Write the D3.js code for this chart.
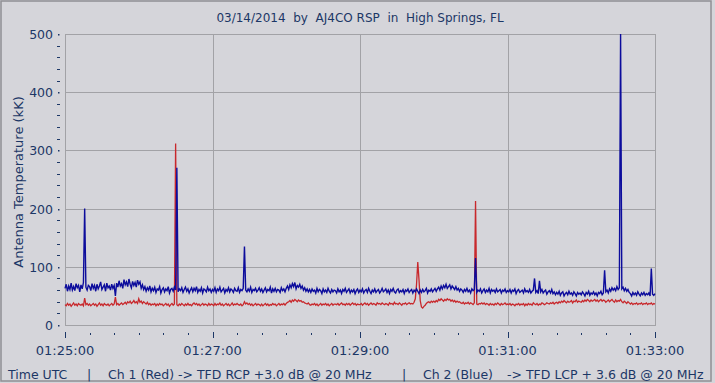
<!DOCTYPE html>
<html>
<head>
<meta charset="utf-8">
<script src="https://cdn.jsdelivr.net/npm/d3@7"></script>
<style>
  html, body { margin: 0; padding: 0; background: #d5d5da; }
  svg { display: block; }
  text { font-family: "DejaVu Sans", Verdana, sans-serif; fill: #1c3766; }
</style>
</head>
<body>
<svg id="chart" width="715" height="383"></svg>
<script>
// ---- Data ----
const titleText = "03/14/2014  by  AJ4CO RSP  in  High Springs, FL";
const yAxisTitle = "Antenna Temperature (kK)";
const legendParts = ["Time UTC", "|", "Ch 1 (Red) -> TFD RCP +3.0 dB @ 20 MHz", "|", "Ch 2 (Blue)", "-> TFD LCP + 3.6 dB @ 20 MHz"];

const startSeconds = 0;     // 01:25:00
const stepSeconds = 1;      // sample spacing (s)
const xTickSeconds = [0, 120, 240, 360, 480];
const xTickLabels = ["01:25:00", "01:27:00", "01:29:00", "01:31:00", "01:33:00"];
const yTicks = [0, 100, 200, 300, 400, 500];

// Ch 2 (Blue) antenna temperature, one value per second
const blueValues = [
  63,70,58,67,61,72,60,66,59,71, 64,68,57,69,62,73,200,65,60,68,
  66,59,71,63,68,58,70,62,67,74, 61,65,69,58,72,64,67,60,70,63,
  68,50,72,65,76,67,71,63,78,69, 74,66,79,70,64,75,68,73,65,77,
  70,74,63,69,61,66,58,64,60,67, 57,63,59,65,56,62,60,66,55,61,
  64,57,62,59,66,55,61,63,58,65, 60,270,57,62,59,64,56,61,65,58,
  62,55,60,64,57,63,59,66,56,61, 58,64,55,62,60,57,65,59,62,56,
  61,58,64,56,62,59,65,57,60,63, 55,61,58,64,57,62,60,56,63,59,
  58,64,56,61,59,63,135,60,57,62, 58,65,56,61,59,63,57,60,64,58,
  62,56,60,64,57,61,59,65,55,62, 58,63,57,61,60,56,64,59,62,57,
  63,67,61,69,64,71,66,73,62,68, 65,70,63,67,60,64,58,62,57,61,
  56,62,58,60,55,63,57,61,59,54, 62,57,60,56,63,58,55,61,57,60,
  59,55,62,57,60,54,61,58,63,56, 59,62,55,60,57,61,54,59,62,56,
  60,57,62,55,59,61,56,63,58,54, 60,57,62,56,59,61,55,58,63,57,
  59,62,56,60,54,61,58,63,57,55, 60,62,56,59,57,61,54,60,58,62,
  56,59,61,55,60,57,62,58,54,60, 56,61,57,59,63,55,60,58,62,57,
  60,63,58,62,65,60,67,62,68,64, 70,63,66,69,62,67,64,61,66,60,
  63,58,62,60,56,61,58,63,57,60, 55,62,59,61,115,56,60,58,62,55,
  59,62,56,60,57,63,55,61,58,60, 56,62,57,59,61,55,60,58,62,56,
  59,57,61,55,60,58,62,54,59,61, 56,58,60,55,62,57,59,56,61,55,
  58,60,80,56,59,54,76,57,61,55, 58,60,53,57,59,55,61,54,57,52,
  56,53,58,51,55,57,50,54,56,52, 58,53,55,51,57,54,50,56,53,55,
  52,57,54,50,56,53,58,51,55,53, 57,52,55,50,56,54,58,52,55,94,
  57,60,55,62,58,64,60,63,59,66, 61,64,500,62,65,59,63,58,61,56,
  54,50,56,52,55,51,57,53,50,55, 52,56,51,54,52,55,50,97,53,51,
  54
];

// Ch 1 (Red) antenna temperature, one value per second
const redValues = [
  35,33,37,34,36,32,35,38,34,36, 33,37,35,34,36,33,46,35,37,34,
  36,33,35,37,34,36,32,35,38,34, 36,33,37,35,34,36,33,35,37,34,
  36,48,35,37,34,36,38,35,37,39, 36,40,38,41,37,39,42,38,40,37,
  45,39,41,37,40,38,36,39,35,37, 34,36,35,37,33,36,34,37,35,36,
  33,35,37,34,36,32,35,37,34,36, 312,35,33,36,34,37,35,33,36,34,
  37,34,35,33,36,38,35,37,34,36, 33,35,37,34,36,35,33,37,34,36,
  35,33,37,34,36,35,38,34,36,33, 35,37,34,36,33,35,38,34,36,35,
  37,35,34,36,33,35,40,36,38,35, 37,34,36,33,35,37,34,36,35,33,
  36,33,35,37,34,36,33,35,34,37, 35,36,33,35,37,34,36,35,37,34,
  37,39,40,42,39,43,41,44,42,40, 43,41,42,39,40,38,37,36,38,35,
  34,36,35,37,34,36,33,35,37,34, 36,35,37,34,36,33,35,37,34,36,
  36,35,37,34,36,38,35,36,34,37, 35,37,34,36,38,35,37,34,36,35,
  35,37,34,36,38,35,37,34,36,38, 35,37,36,34,38,36,37,35,38,36,
  35,37,36,34,38,36,37,35,39,36, 37,35,38,36,34,37,36,38,35,37,
  38,36,37,36,39,45,70,108,78,42, 31,29,32,34,37,39,40,38,41,39,
  41,39,42,40,44,42,45,43,41,44, 42,45,43,44,41,43,40,42,39,41,
  39,40,38,37,39,36,38,37,39,36, 38,37,35,38,213,36,35,37,36,38,
  36,38,35,37,36,34,37,35,36,34, 37,35,38,36,34,37,35,36,38,35,
  36,35,37,34,36,35,33,36,35,37, 34,36,35,37,33,36,34,37,35,36,
  34,38,36,35,37,34,36,35,38,37, 35,36,38,37,36,38,37,39,36,38,
  39,37,40,38,41,39,42,40,38,41, 39,40,42,38,41,40,43,39,41,40,
  39,42,40,43,41,44,42,40,43,41, 42,44,41,43,40,42,44,41,43,42,
  39,41,43,40,42,44,41,39,43,40, 42,41,44,40,38,41,39,37,40,38,
  36,38,35,37,36,38,35,37,36,38, 35,37,36,38,35,37,36,38,35,37,
  36
];

// ---- Layout ----
const W = 715, H = 383;
const plot = { left: 65, right: 655, top: 34, bottom: 325 };
const bg = "#d5d5da", gridColor = "#a2a2a6", inkColor = "#1c3766";

const svg = d3.select("#chart");
svg.append("rect").attr("x", 0).attr("y", 0).attr("width", W).attr("height", H).attr("fill", bg);
svg.append("rect").attr("x", 1).attr("y", 1).attr("width", 710).attr("height", 380)
  .attr("fill", "none").attr("stroke", "#8f8f94").attr("stroke-width", 1.5);

const x = d3.scaleLinear().domain([0, 480]).range([plot.left, plot.right]);
const y = d3.scaleLinear().domain([0, 500]).range([plot.bottom, plot.top]);

// grid
svg.append("g").selectAll("line").data(xTickSeconds.slice(1, -1)).join("line")
  .attr("x1", d => Math.round(x(d)) + 0.5).attr("x2", d => Math.round(x(d)) + 0.5)
  .attr("y1", plot.top).attr("y2", plot.bottom)
  .attr("stroke", gridColor).attr("stroke-width", 1);
svg.append("g").selectAll("line").data(yTicks.slice(1, -1)).join("line")
  .attr("y1", d => Math.round(y(d)) + 0.5).attr("y2", d => Math.round(y(d)) + 0.5)
  .attr("x1", plot.left).attr("x2", plot.right)
  .attr("stroke", gridColor).attr("stroke-width", 1);

// plot frame
svg.append("rect").attr("x", plot.left + 0.5).attr("y", plot.top + 0.5)
  .attr("width", plot.right - plot.left).attr("height", plot.bottom - plot.top)
  .attr("fill", "none").attr("stroke", gridColor).attr("stroke-width", 1);

// y ticks: minor every 20, major each 100
const yMinor = d3.range(0, 501, 20).filter(v => v % 100 !== 0);
svg.append("g").selectAll("line").data(yMinor).join("line")
  .attr("x1", 57).attr("x2", 60)
  .attr("y1", d => Math.round(y(d)) + 0.5).attr("y2", d => Math.round(y(d)) + 0.5)
  .attr("stroke", inkColor).attr("stroke-width", 1);
svg.append("g").selectAll("rect").data(yTicks).join("rect")
  .attr("x", 58).attr("y", d => Math.round(y(d))).attr("width", 1.5).attr("height", 1.5)
  .attr("fill", inkColor);
svg.append("g").selectAll("text").data(yTicks).join("text")
  .attr("x", 53).attr("y", d => y(d) + 5)
  .attr("text-anchor", "end").attr("font-size", 12.5)
  .text(d => d);

// x ticks
const xMinor = d3.range(0, 481, 20).filter(v => v % 120 !== 0);
svg.append("g").selectAll("line").data(xMinor).join("line")
  .attr("x1", d => Math.round(x(d)) + 0.5).attr("x2", d => Math.round(x(d)) + 0.5)
  .attr("y1", 333).attr("y2", 335)
  .attr("stroke", inkColor).attr("stroke-width", 1);
svg.append("g").selectAll("line").data(xTickSeconds).join("line")
  .attr("x1", d => Math.round(x(d)) + 0.5).attr("x2", d => Math.round(x(d)) + 0.5)
  .attr("y1", 332).attr("y2", 338)
  .attr("stroke", inkColor).attr("stroke-width", 1);
svg.append("g").selectAll("text").data(xTickSeconds).join("text")
  .attr("x", d => x(d)).attr("y", 355)
  .attr("text-anchor", "middle").attr("font-size", 13)
  .text((d, i) => xTickLabels[i]);

// series
const line = d3.line()
  .x((d, i) => x(startSeconds + i * stepSeconds))
  .y(d => y(d));
svg.append("path").datum(redValues).attr("d", line)
  .attr("fill", "none").attr("stroke", "#c8282c").attr("stroke-width", 1.3);
svg.append("path").datum(blueValues).attr("d", line)
  .attr("fill", "none").attr("stroke", "#0c0c9c").attr("stroke-width", 1.4);

// title
svg.append("text").attr("x", 360).attr("y", 22)
  .attr("text-anchor", "middle").attr("font-size", 12)
  .style("white-space", "pre").text(titleText);

// y axis title
svg.append("text")
  .attr("transform", "translate(23,182) rotate(-90)")
  .attr("text-anchor", "middle").attr("font-size", 13)
  .text(yAxisTitle);

// bottom legend line
const legendX = [8, 87, 108, 402, 423, 507];
svg.append("g").selectAll("text").data(legendParts).join("text")
  .attr("x", (d, i) => legendX[i]).attr("y", 379)
  .attr("font-size", 12.5)
  .text(d => d);
</script>
</body>
</html>
